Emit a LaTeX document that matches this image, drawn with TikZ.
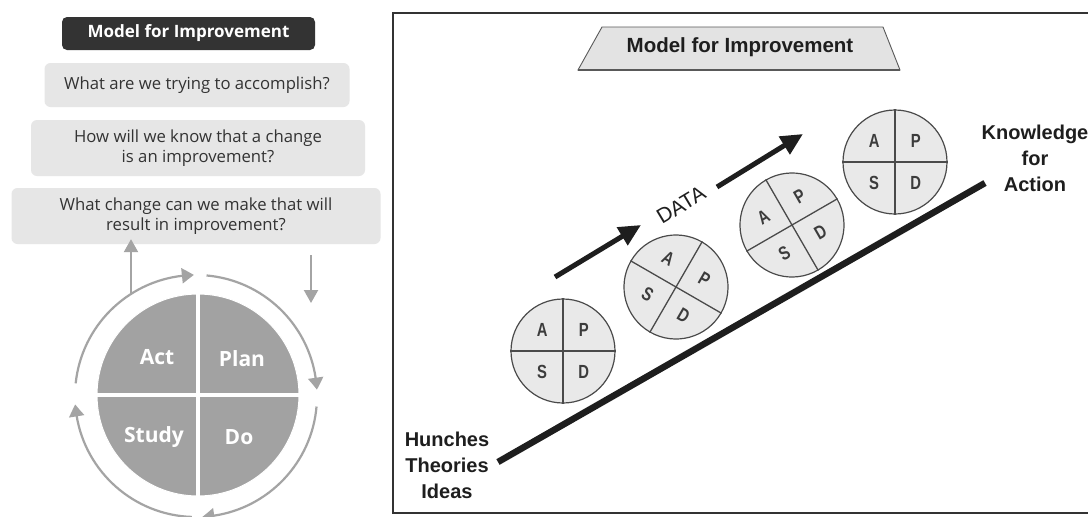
\documentclass[tikz,border=0pt]{standalone}
\usepackage{fontspec}
\setmainfont{Open Sans}
\newfontfamily\arialfont{Liberation Sans}
\usetikzlibrary{arrows.meta,bending,calc}

\definecolor{hdr}{HTML}{333333}
\definecolor{qfill}{HTML}{E6E6E6}
\definecolor{qtext}{HTML}{333333}
\definecolor{cyc}{HTML}{A2A2A2}
\definecolor{ringgray}{HTML}{A4A4A4}
\definecolor{ink}{HTML}{1E1E1E}
\definecolor{discfill}{HTML}{E9E9E9}
\definecolor{discline}{HTML}{4A4A4A}
\definecolor{letter}{HTML}{3C3C3C}

\tikzset{
  header/.style={fill=hdr, rounded corners=5pt, minimum width=253, minimum height=33,
    inner sep=0, text=white, font=\fontsize{17}{20}\selectfont\bfseries},
  question/.style={fill=qfill, rounded corners=6pt, inner sep=0, align=center,
    text=qtext, font=\fontsize{16.7}{19.5}\selectfont},
  pdsalabel/.style={text=white, font=\fontsize{21}{24}\selectfont\bfseries, inner sep=0},
  ringarrow/.style={draw=ringgray, line width=2.2pt,
    -{Triangle[length=12pt,width=15pt,bend]}},
  sidearrow/.style={draw=ringgray, line width=2.2pt, -{Triangle[length=13pt,width=14pt]}},
  frameline/.style={draw=black!80, line width=1.4pt},
  disc/.style={circle, fill=discfill, draw=discline, line width=1.2pt,
    minimum size=104, inner sep=0},
  discdiv/.style={draw=discline, line width=1.3pt},
  discletter/.style={text=letter, font=\arialfont\fontsize{19}{19}\selectfont\bfseries, inner sep=0},
  bold label/.style={text=ink, align=center, inner sep=0,
    font=\arialfont\fontsize{20}{26}\selectfont\bfseries},
  dataarrow/.style={draw=ink, line width=5pt, -{Triangle[length=22pt,width=20pt]}},
  rampline/.style={draw=ink, line width=6.5pt}
}

% one PDSA disc: name, centre, rotation
\newcommand\pdsadisc[3]{%
  \node[disc, rotate=#3] (#1) at (#2) {};
  \draw[discdiv] (#1.north) -- (#1.south) (#1.west) -- (#1.east);
  \foreach \a/\l in {north west/A, north east/P, south west/S, south east/D}
    \node[discletter, rotate=#3] (#1-\l) at ($(#1.center)!0.56!(#1.\a)$) {\scalebox{0.78}[1]{\l}};
}

\begin{document}
\begin{tikzpicture}[x=1pt, y=-1pt]
\useasboundingbox[fill=white] (0,0) rectangle (1088,517);

% ---------- left: the three questions and the PDSA cycle ----------
\node[header] (head) at (188.5,33.5) {Model for Improvement};
\node[question, minimum width=305, minimum height=44] (q1) at (197,85)
  {What are we trying to accomplish?};
\node[question, minimum width=334, minimum height=56] (q2) at (198,148)
  {How will we know that a change\\is an improvement?};
\node[question, minimum width=369, minimum height=56] (q3) at (196,216)
  {What change can we make that will\\result in improvement?};

\node[circle, fill=cyc, draw=white, line width=1pt, minimum size=202, inner sep=0] (pdsa) at (198,395) {};
\draw[white, line width=4.5pt] (pdsa.north) -- (pdsa.south) (pdsa.west) -- (pdsa.east);
\node[pdsalabel] (act) at (157,357) {Act};
\node[pdsalabel] (plan) at (242,359) {Plan};
\node[pdsalabel] (study) at (154,437) {Study};
\node[pdsalabel] (do) at (239,437) {Do};

\coordinate (rc) at (196,396);
\draw[ringarrow] ($(rc)+(-174:121)$) arc[start angle=-174, end angle=-91, radius=121];
\draw[ringarrow] ($(rc)+(-85:121)$) arc[start angle=-85, end angle=-3, radius=121];
\draw[ringarrow] ($(rc)+(5:121)$) arc[start angle=5, end angle=87, radius=121];
\draw[ringarrow] ($(rc)+(92:121)$) arc[start angle=92, end angle=176, radius=121];

\coordinate (upfoot) at (131,293);
\coordinate (uptip) at (q3.south -| upfoot);
\draw[sidearrow] (upfoot) -- ([yshift=5]uptip);
\coordinate (downtop) at (311,255);
\coordinate (downtip) at (311,303);
\draw[sidearrow] (downtop) -- (downtip);

% ---------- right: ramp of PDSA cycles ----------
\draw[frameline] (1090,13) -- (393,13) -- (393,513) -- (1090,513);

\coordinate (tzbl) at (578,70);
\coordinate (tzbr) at (900,70);
\coordinate (tztl) at (602,27);
\coordinate (tztr) at (883,27);
\filldraw[fill=black!11, draw=black!65, line width=0.9pt] (tzbl) -- (tztl) -- (tztr) -- (tzbr) -- cycle;
\draw[black!65, line width=2pt] (tzbl) -- (tzbr);
\node[text=ink, inner sep=0, font=\arialfont\fontsize{20.5}{24}\selectfont\bfseries] (title) at (740,47) {Model for Improvement};

\coordinate (ideas) at (498,462);
\coordinate (knowledge) at (985,183);
\draw[rampline] (ideas) -- (knowledge);

\pdsadisc{c1}{563,351}{0}
\pdsadisc{c2}{676,287}{-30}
\pdsadisc{c3}{792,225}{30}
\pdsadisc{c4}{895,162}{0}

\coordinate (d1s) at (555,277);
\coordinate (d1e) at (641,225);
\coordinate (d2s) at (717,187);
\coordinate (d2e) at (803,134);
\draw[dataarrow] (d1s) -- (d1e);
\draw[dataarrow] (d2s) -- (d2e);
\node[text=ink, inner sep=0, rotate=31, font=\arialfont\fontsize{21}{22}\selectfont] (data) at (681,205) {DATA};

\node[bold label] (hunches) at (447,465) {Hunches\\Theories\\Ideas};
\node[bold label] (action) at (1035,158) {Knowledge\\for\\Action};
\end{tikzpicture}
\end{document}
